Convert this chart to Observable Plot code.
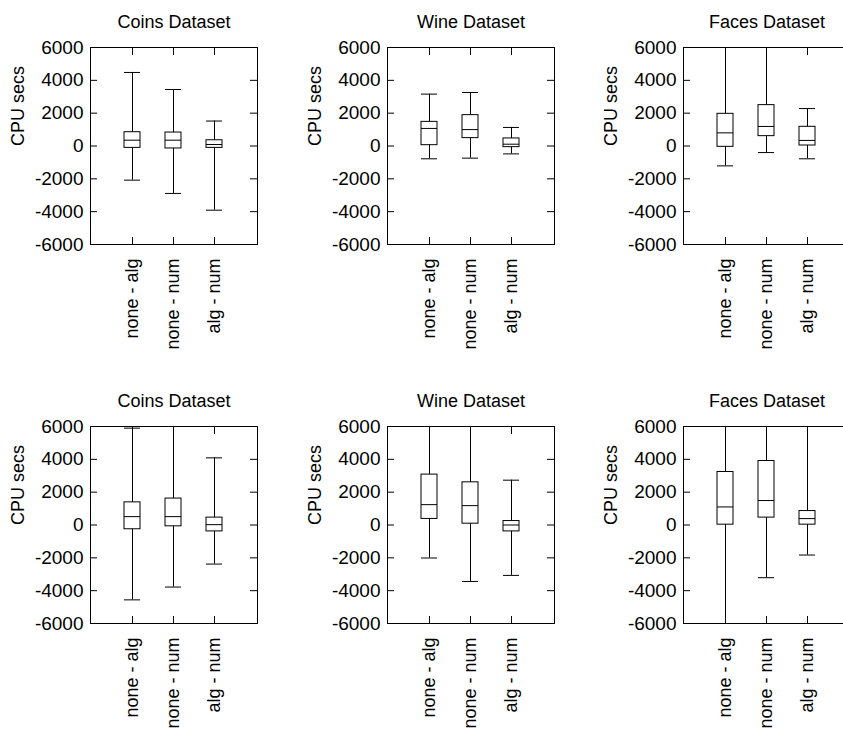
<!DOCTYPE html>
<html><head><meta charset="utf-8">
<script src="https://cdn.jsdelivr.net/npm/d3@7"></script>
<script src="https://cdn.jsdelivr.net/npm/@observablehq/plot@0.6"></script>
<style>
html,body{margin:0;padding:0;background:#fff;overflow:hidden;width:843px;height:729px;}
#root{position:relative;width:843px;height:729px;overflow:hidden;background:#fff;}
.panel{position:absolute;overflow:hidden;height:354px;}
.panel svg{max-width:none !important;display:block;}
</style></head><body><div id="root"></div>
<script>
const categories = ["none - alg", "none - num", "alg - num"];
const yTicks = [-6000, -4000, -2000, 0, 2000, 4000, 6000];
const titles = ["Coins Dataset", "Wine Dataset", "Faces Dataset", "Coins Dataset", "Wine Dataset", "Faces Dataset"];
// one row per panel (top row left→right, then bottom row), one value per category
const whiskerLow  = [[-2080, -2890, -3910], [-780, -740, -480], [-1210, -400, -780], [-4560, -3780, -2380], [-2010, -3440, -3070], [-7000, -3210, -1830]];
const quartile1   = [[-115, -150, -115], [50, 480, -70], [-50, 600, 30], [-260, -80, -390], [370, 80, -390], [20, 450, 20]];
const medians     = [[355, 355, 90], [1070, 1000, 110], [800, 1190, 340], [510, 510, 20], [1240, 1180, 0], [1100, 1490, 390]];
const quartile3   = [[840, 820, 350], [1470, 1880, 460], [1960, 2490, 1170], [1380, 1610, 450], [3070, 2600, 240], [3230, 3900, 850]];
const whiskerHigh = [[4480, 3440, 1520], [3160, 3260, 1130], [7000, 7000, 2280], [5900, 7000, 4090], [7000, 7000, 2730], [7000, 7000, 7000]];

const panelLeft = [0, 297, 593];
const panelTop = [0, 379];
const font = "'Liberation Sans', Arial, Helvetica, sans-serif";

function panel(i) {
  const rows = categories.map((c, j) => ({
    cat: c, lo: whiskerLow[i][j], q1: quartile1[i][j], med: medians[i][j], q3: quartile3[i][j], hi: whiskerHigh[i][j]
  }));
  return Plot.plot({
    width: 287, height: 354,
    marginLeft: 90, marginRight: 30, marginTop: 47, marginBottom: 110,
    style: {fontFamily: font, fontSize: "18px", color: "black", background: "white"},
    x: {type: "band", domain: categories, paddingInner: 0.605, paddingOuter: 0.8025, label: null},
    y: {domain: [-6000, 6000], label: null},
    marks: [
      Plot.ruleX(rows, {x: "cat", y1: "lo", y2: "hi", stroke: "black", strokeWidth: 1, clip: true}),
      Plot.barY(rows, {x: "cat", y1: "q1", y2: "q3", fill: "white", stroke: "black", strokeWidth: 1}),
      Plot.tickY(rows, {x: "cat", y: "med", stroke: "black", strokeWidth: 1}),
      Plot.tickY(rows, {x: "cat", y: "lo", stroke: "black", strokeWidth: 1, clip: true}),
      Plot.tickY(rows, {x: "cat", y: "hi", stroke: "black", strokeWidth: 1, clip: true}),
      Plot.axisY({anchor: "left", ticks: yTicks, tickSize: -7, tickPadding: 14, tickFormat: d => String(d), label: null, fontSize: 19}),
      Plot.axisY({anchor: "right", ticks: yTicks, tickSize: -8, tickFormat: () => "", label: null}),
      Plot.axisX({anchor: "bottom", tickSize: -7, tickPadding: 21, tickRotate: -90, label: null, fontSize: 18}),
      Plot.axisX({anchor: "top", tickSize: -7, tickFormat: () => "", label: null}),
      Plot.frame({stroke: "black", strokeWidth: 1}),
      Plot.text([titles[i]], {frameAnchor: "top", dy: -20, lineAnchor: "bottom", fontSize: 18, fill: "black"}),
      Plot.text(["CPU secs"], {frameAnchor: "left", dx: -72, rotate: -90, fontSize: 18, fill: "black"})
    ]
  });
}

const root = document.getElementById("root");
for (let i = 0; i < 6; i++) {
  const col = i % 3;
  const div = document.createElement("div");
  div.className = "panel";
  div.style.left = panelLeft[col] + "px";
  div.style.top = panelTop[Math.floor(i / 3)] + "px";
  div.style.width = (col === 2 ? 843 - panelLeft[col] : 287) + "px";
  div.appendChild(panel(i));
  root.appendChild(div);
}
</script></body></html>
